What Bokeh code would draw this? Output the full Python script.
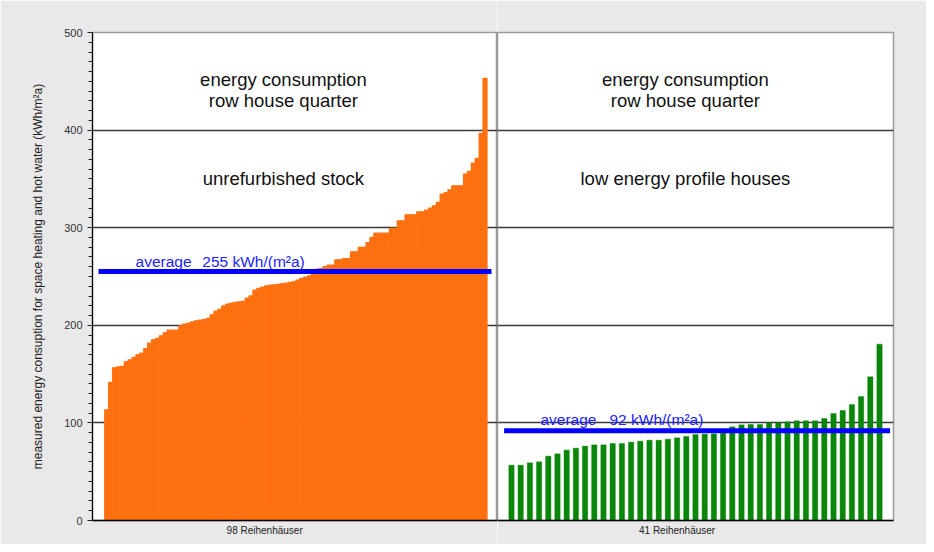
from bokeh.plotting import figure
from bokeh.layouts import row
from bokeh.models import Range1d, FixedTicker, Label, Grid
from bokeh.embed import file_html
from bokeh.resources import INLINE

# ---------------- data ----------------
unrefurbished = [
    113.4, 141.4, 156.4, 157.4, 157.8, 162.6, 164.6, 167.0, 169.7, 171.4,
    176.2, 181.7, 185.1, 186.5, 189.2, 192.3, 195.0, 195.0, 195.0, 199.5,
    201.1, 202.2, 203.5, 204.6, 205.2, 205.9, 207.0, 210.7, 214.5, 216.2,
    219.9, 221.6, 222.7, 223.4, 224.0, 224.4, 227.8, 230.2, 236.0, 237.7,
    239.1, 240.4, 241.1, 241.5, 241.8, 242.5, 243.2, 243.9, 244.5, 246.2,
    248.0, 249.3, 250.7, 256.9, 257.6, 258.3, 260.0, 261.7, 261.7, 267.1,
    267.1, 268.4, 268.4, 275.3, 275.3, 279.7, 279.7, 284.8, 290.0, 294.4,
    294.4, 294.4, 294.4, 299.2, 299.2, 307.0, 307.0, 313.2, 313.2, 313.2,
    316.3, 316.3, 318.0, 320.0, 322.4, 325.8, 334.3, 336.0, 338.8, 342.9,
    342.9, 342.9, 354.8, 357.6, 366.1, 370.9, 396.5, 452.9,
]
low_energy = [
    56.7, 56.7, 59.1, 60.1, 65.9, 68.3, 72.1, 74.1, 76.2, 77.5,
    77.5, 78.9, 78.9, 80.3, 81.3, 82.3, 82.3, 83.3, 84.7, 86.1,
    88.1, 88.5, 88.8, 89.5, 96.0, 98.0, 98.4, 98.4, 100.1, 100.1,
    101.1, 102.1, 102.1, 102.1, 104.5, 109.6, 112.7, 118.9, 127.0, 147.2,
    180.7,
]
avg_unrefurbished = 255
avg_low_energy = 92
y_ticks = [0, 100, 200, 300, 400, 500]
x_labels = ["98 Reihenhäuser", "41 Reihenhäuser"]
title_top = ["energy consumption", "row house quarter"]
subtitles = ["unrefurbished stock", "low energy profile houses"]
y_label = "measured energy consuption for space heating and hot water (kWh/m²a)"

# ---------------- style ----------------
FONT = "Liberation Sans"
BG = "#e9e9e9"
ORANGE = "#ff7010"
GREEN = "#0a870a"
BLUE = "#0000ff"
LBLUE = "#2222ff"

y_range = Range1d(0, 500)


def style(p):
    p.background_fill_color = "white"
    p.border_fill_color = BG
    p.outline_line_color = "#9a9a9a"
    p.outline_line_width = 1.5
    p.xgrid.visible = False
    for ax in p.xaxis:
        ax.axis_line_color = "black"
        ax.axis_line_width = 1.5
        ax.major_tick_out = 0
        ax.major_tick_in = 0
        ax.minor_tick_out = 0
        ax.minor_tick_in = 0
        ax.major_label_text_font = FONT
        ax.major_label_text_font_size = "10px"
        ax.major_label_text_color = "#222222"
        ax.major_label_standoff = 4


def add_label(p, x, y, text, size, color, align="center"):
    p.add_layout(Label(x=x, y=y, text=text, text_align=align,
                       text_baseline="alphabetic", text_font=FONT,
                       text_font_size=size, text_color=color))


# ---------------- left panel ----------------
n1 = len(unrefurbished)
p1 = figure(width=497, height=544, x_range=Range1d(-3.15, 100.7), y_range=y_range,
            output_backend="svg", toolbar_location=None,
            min_border_left=92, min_border_right=0,
            min_border_top=32, min_border_bottom=24)
style(p1)
yax = p1.yaxis[0]
yax.ticker = FixedTicker(ticks=y_ticks, minor_ticks=list(range(0, 501, 10)))
yax.axis_line_color = "black"
yax.axis_line_width = 1.2
yax.major_tick_out = 5
yax.major_tick_in = 0
yax.minor_tick_out = 4
yax.minor_tick_in = 0
yax.major_tick_line_color = "#222222"
yax.minor_tick_line_color = "#222222"
yax.major_label_text_font = FONT
yax.major_label_text_font_size = "11px"
yax.major_label_text_color = "#333333"
yax.major_label_standoff = 5
yax.axis_label = y_label
yax.axis_label_text_font = FONT
yax.axis_label_text_font_size = "12px"
yax.axis_label_text_font_style = "normal"
yax.axis_label_text_color = "#222222"
yax.axis_label_standoff = 16
p1.ygrid.ticker = FixedTicker(ticks=y_ticks)
p1.ygrid.grid_line_color = "#3a3a3a"
p1.ygrid.grid_line_width = 1.4

p1.xaxis.ticker = FixedTicker(ticks=[41])
p1.xaxis.major_label_overrides = {41: x_labels[0]}

p1.vbar(x=[i + 0.5 for i in range(n1)], top=unrefurbished, width=1.0,
        fill_color=ORANGE, line_color=ORANGE, line_width=1.3)
p1.line(x=[-1.6, n1 + 1.15], y=[avg_unrefurbished, avg_unrefurbished],
        line_color=BLUE, line_width=5)

add_label(p1, 45.8, 451.8, title_top[0], "18.5px", "#111111")
add_label(p1, 45.8, 430.6, title_top[1], "18.5px", "#111111")
add_label(p1, 45.8, 350.4, subtitles[0], "18.5px", "#111111")
add_label(p1, 7.9, 265.4, "average", "15.5px", LBLUE, "left")
add_label(p1, 25.0, 265.4, f"{avg_unrefurbished} kWh/(m²a)", "15.5px", LBLUE, "left")

# ---------------- right panel ----------------
n2 = len(low_energy)
p2 = figure(width=429, height=544, x_range=Range1d(-1.02, 42.02), y_range=y_range,
            output_backend="svg", toolbar_location=None, y_axis_location=None,
            min_border_left=0, min_border_right=33,
            min_border_top=32, min_border_bottom=24)
style(p2)
if len(p2.ygrid) == 0:
    p2.add_layout(Grid(dimension=1, ticker=FixedTicker(ticks=y_ticks)), "center")
p2.ygrid.ticker = FixedTicker(ticks=y_ticks)
p2.ygrid.grid_line_color = "#3a3a3a"
p2.ygrid.grid_line_width = 1.4

p2.xaxis.ticker = FixedTicker(ticks=[18.5])
p2.xaxis.major_label_overrides = {18.5: x_labels[1]}

p2.vbar(x=[i + 0.5 for i in range(n2)], top=low_energy, width=0.58,
        fill_color=GREEN, line_color=GREEN, line_width=0.4)
p2.line(x=[-0.3, n2 + 0.65], y=[avg_low_energy, avg_low_energy],
        line_color=BLUE, line_width=5)

add_label(p2, 19.4, 451.8, title_top[0], "18.5px", "#111111")
add_label(p2, 19.4, 430.6, title_top[1], "18.5px", "#111111")
add_label(p2, 19.4, 350.4, subtitles[1], "18.5px", "#111111")
add_label(p2, 3.65, 103.5, "average", "15.5px", LBLUE, "left")
add_label(p2, 11.15, 103.5, f"{avg_low_energy} kWh/(m²a)", "15.5px", LBLUE, "left")

layout = row(p1, p2)
open("out.html", "w").write(file_html(layout, INLINE))
